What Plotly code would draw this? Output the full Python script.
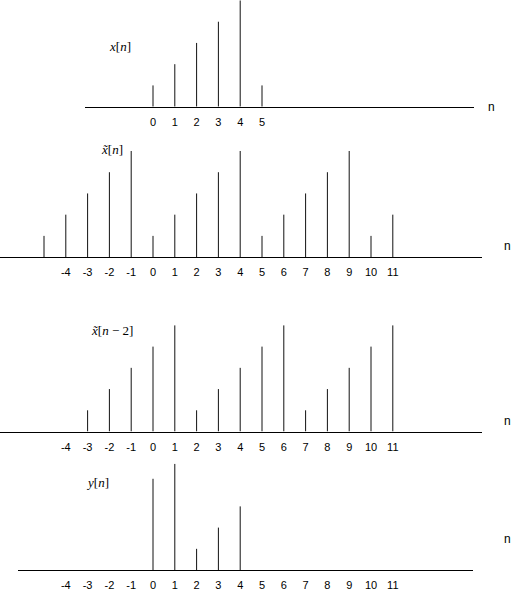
import plotly.graph_objects as go

# ---- data ----
n_x = [0, 1, 2, 3, 4, 5]
v_x = [1, 2, 3, 4, 5, 1]

n_xt = [-5, -4, -3, -2, -1, 0, 1, 2, 3, 4, 5, 6, 7, 8, 9, 10, 11]
v_xt = [1, 2, 3, 4, 5, 1, 2, 3, 4, 5, 1, 2, 3, 4, 5, 1, 2]

n_xs = [-3, -2, -1, 0, 1, 2, 3, 4, 5, 6, 7, 8, 9, 10, 11]
v_xs = [1, 2, 3, 4, 5, 1, 2, 3, 4, 5, 1, 2, 3, 4, 5]

n_y = [0, 1, 2, 3, 4]
v_y = [4.3, 5, 1, 2, 3]

ticks_top = [0, 1, 2, 3, 4, 5]
ticks_full = list(range(-4, 12))

panel_labels = ["<i>x</i>[<i>n</i>]", "<i>x\u0303</i>[<i>n</i>]",
                "<i>x\u0303</i>[<i>n</i> \u2212 2]", "<i>y</i>[<i>n</i>]"]

# ---- layout geometry (pixels) ----
W, H = 512, 591
ZERO_PX = 153.0   # pixel x of n = 0
UNIT_X = 21.8     # pixels per sample
UNIT_Y = 21.3     # pixels per amplitude unit

panels = [
    # (n, v, ticks, axis x-left, axis x-right, baseline y, label pos, n-label pos)
    (n_x, v_x, ticks_top, 85, 474, 107, (120, 47), (491, 107)),
    (n_xt, v_xt, ticks_full, 0, 482, 258, (112, 150), (507, 247)),
    (n_xs, v_xs, ticks_full, 0, 482, 433, (112, 332), (507, 422)),
    (n_y, v_y, ticks_full, 18, 473, 572, (97, 484), (507, 541)),
]

fig = go.Figure()
layout = dict(width=W, height=H, margin=dict(l=0, r=0, t=0, b=0),
              paper_bgcolor="white", plot_bgcolor="rgba(0,0,0,0)",
              showlegend=False, annotations=[])

for i, (ns, vs, tks, xl, xr, base, lab, nlab) in enumerate(panels, start=1):
    xs, ys = [], []
    for n, v in zip(ns, vs):
        xs += [n, n, None]
        ys += [0, v, None]
    xname = "x" if i == 1 else f"x{i}"
    yname = "y" if i == 1 else f"y{i}"
    fig.add_trace(go.Scatter(x=xs, y=ys, mode="lines", xaxis=xname, yaxis=yname,
                             line=dict(color="#111111", width=1),
                             cliponaxis=False, hoverinfo="skip"))
    top = max(base - 118, 0)
    a = (xl - ZERO_PX) / UNIT_X
    b = (xr - ZERO_PX) / UNIT_X
    layout["xaxis" if i == 1 else f"xaxis{i}"] = dict(
        domain=[xl / W, xr / W], range=[a, b], anchor=yname,
        showgrid=False, zeroline=False, showline=True, linecolor="black", linewidth=1,
        tickmode="array", tickvals=tks, ticktext=[str(t) for t in tks],
        ticks="outside", ticklen=5, tickcolor="rgba(0,0,0,0)",
        tickfont=dict(family="Liberation Sans, Arial", size=11, color="black"))
    layout["yaxis" if i == 1 else f"yaxis{i}"] = dict(
        domain=[(H - base) / H, (H - top) / H], range=[0, (base - top) / UNIT_Y],
        anchor=xname, visible=False)
    layout["annotations"].append(dict(
        x=lab[0] / W, y=1 - lab[1] / H, xref="paper", yref="paper", text=panel_labels[i - 1],
        showarrow=False, xanchor="center", yanchor="middle",
        font=dict(family="Liberation Serif, Times New Roman", size=13, color="black")))
    layout["annotations"].append(dict(
        x=nlab[0] / W, y=1 - nlab[1] / H, xref="paper", yref="paper", text="n",
        showarrow=False, xanchor="center", yanchor="middle",
        font=dict(family="Liberation Sans, Arial", size=12, color="black")))

fig.update_layout(**layout)
fig.write_html("out.html", config={"displayModeBar": False},
               post_script="document.body.style.margin='0';document.body.style.overflow='hidden';")
